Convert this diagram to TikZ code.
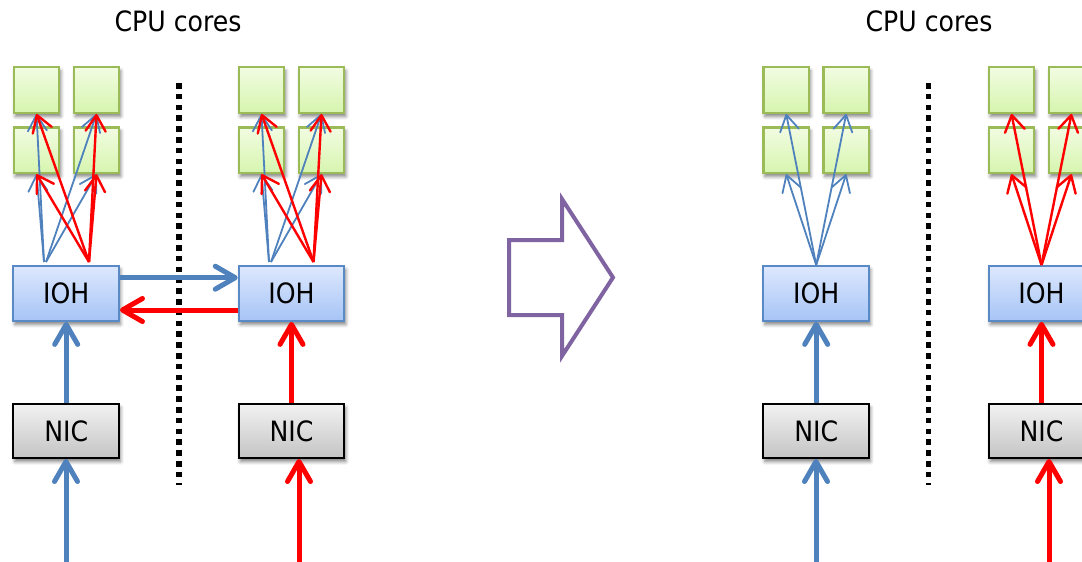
\documentclass[tikz,border=0pt]{standalone}
\usepackage{fontspec}
\setmainfont{DejaVu Sans Condensed}
\usetikzlibrary{arrows.meta,shadows.blur}

\definecolor{linkblue}{HTML}{4F81BD}
\definecolor{linkred}{HTML}{FF0000}
\definecolor{coreedge}{HTML}{9BBB59}
\definecolor{coretop}{HTML}{F2FCE2}
\definecolor{corebot}{HTML}{D6F5AE}
\definecolor{iohedge}{HTML}{5A8AC6}
\definecolor{iohtop}{HTML}{DDE8FD}
\definecolor{iohbot}{HTML}{A6C4F6}
\definecolor{nictop}{HTML}{F2F2F2}
\definecolor{nicbot}{HTML}{C4C4C4}
\definecolor{shiftarrow}{HTML}{8064A2}

\newcommand\labelsize{\fontsize{28}{34}\selectfont}

\tikzset{
  boxshadow/.style={blur shadow={shadow xshift=1.5pt, shadow yshift=-3.5pt,
      shadow blur radius=3.5pt, shadow opacity=50}},
  core/.style={draw=coreedge, line width=2.4pt, top color=coretop,
      bottom color=corebot, minimum width=45.5pt, minimum height=45.5pt,
      inner sep=0pt, boxshadow},
  ioh/.style={draw=iohedge, line width=2pt, top color=iohtop,
      bottom color=iohbot, minimum width=105.5pt, minimum height=55pt,
      inner sep=0pt, boxshadow, font=\labelsize},
  nic/.style={draw=black, line width=2pt, top color=nictop,
      bottom color=nicbot, minimum width=105.5pt, minimum height=54pt,
      inner sep=0pt, boxshadow, font=\labelsize},
  caption/.style={font=\labelsize, inner sep=0pt},
  thinblue/.style={draw=linkblue, line width=1.8pt,
      -{Straight Barb[length=16pt,width=19pt,round]}},
  thinred/.style={draw=linkred, line width=2.4pt,
      -{Straight Barb[length=16pt,width=20pt,round]}},
  thickblue/.style={draw=linkblue, line width=5pt,
      -{Straight Barb[length=20pt,width=23pt,round]}},
  thickred/.style={draw=linkred, line width=5pt,
      -{Straight Barb[length=20pt,width=23pt,round]}},
  dotline/.style={draw=black, line width=5.5pt, dash pattern=on 5.5pt off 5.3pt},
}

\begin{document}
\begin{tikzpicture}[x=1pt, y=-1pt]
\useasboundingbox (0,0) rectangle (1082,562);

% captions
\node[caption] (capL) at (178,21.5) {CPU cores};
\node[caption] (capR) at (929,21.5) {CPU cores};

% socket separators
\draw[dotline] (179,83) -- (179,485);
\draw[dotline] (928.7,83) -- (928.7,485);

% core blocks: four per socket
\foreach \g/\x in {LA/36.5, LB/261.5, RA/786.2, RB/1011.5} {
  \node[core] (\g1) at (\x,90) {};
  \node[core] (\g2) at (\x+60,90) {};
  \node[core] (\g3) at (\x,150.2) {};
  \node[core] (\g4) at (\x+60,150.2) {};
}

% IO hubs and NICs
\foreach \g/\x in {LA/66.2, LB/291.5, RA/816.2, RB/1041.5} {
  \node[ioh] (ioh\g) at (\x,293.4) {IOH};
  \node[nic] (nic\g) at (\x,431) {NIC};
}

% origins of the core-bound flows
\coordinate (bLA) at (44,262);
\coordinate (bLAr) at (46,262);
\coordinate (rLA) at (89,262);
\coordinate (bLB) at (269,262);
\coordinate (bLBr) at (271,262);
\coordinate (rLB) at (313.5,262);
\coordinate (bRA) at (816.2,265);
\coordinate (rRB) at (1041.5,265);

% left: flows spread over all cores of a socket
\draw[thinblue] (bLA) -- (LA1.south);
\draw[thinblue] (bLA) -- (LA3.south);
\draw[thinblue] (bLAr) -- (LA2.south);
\draw[thinblue] (bLAr) -- (LA4.south);
\draw[thinblue] (bLB) -- (LB1.south);
\draw[thinblue] (bLB) -- (LB3.south);
\draw[thinblue] (bLBr) -- (LB2.south);
\draw[thinblue] (bLBr) -- (LB4.south);
\foreach \c in {1,2,3,4} {
  \draw[thinred] (rLA) -- (LA\c.south);
  \draw[thinred] (rLB) -- (LB\c.south);
}

% right: each flow stays on its own socket
\foreach \c in {1,2,3,4} {
  \draw[thinblue] (bRA) -- (RA\c.south);
  \draw[thinred] (rRB) -- (RB\c.south);
}

% traffic between the two IO hubs
\draw[thickblue] ([yshift=15.7pt]iohLA.east) -- ([yshift=15.7pt]iohLB.west);
\draw[thickred] ([yshift=-16.6pt]iohLB.west) -- ([yshift=-16.6pt]iohLA.east);

% NIC to IO hub
\draw[thickblue] (nicLA.north) -- (iohLA.south);
\draw[thickred] (nicLB.north) -- (iohLB.south);
\draw[thickblue] (nicRA.north) -- (iohRA.south);
\draw[thickred] (nicRB.north) -- (iohRB.south);

% incoming packets
\coordinate (inLA) at (66,562);
\coordinate (inLB) at (299,562);
\coordinate (inRA) at (816,562);
\coordinate (inRB) at (1049,562);
\draw[thickblue] (inLA) -- (inLA |- nicLA.south);
\draw[thickred] (inLB) -- (inLB |- nicLB.south);
\draw[thickblue] (inRA) -- (inRA |- nicRA.south);
\draw[thickred] (inRB) -- (inRB |- nicRB.south);

% block arrow between the two setups
\draw[draw=shiftarrow, line width=4pt, fill=white]
  (509,240) -- (562,240) -- (562,199) -- (613,277.5) -- (562,356)
  -- (562,315) -- (509,315) -- cycle;
\end{tikzpicture}
\end{document}
